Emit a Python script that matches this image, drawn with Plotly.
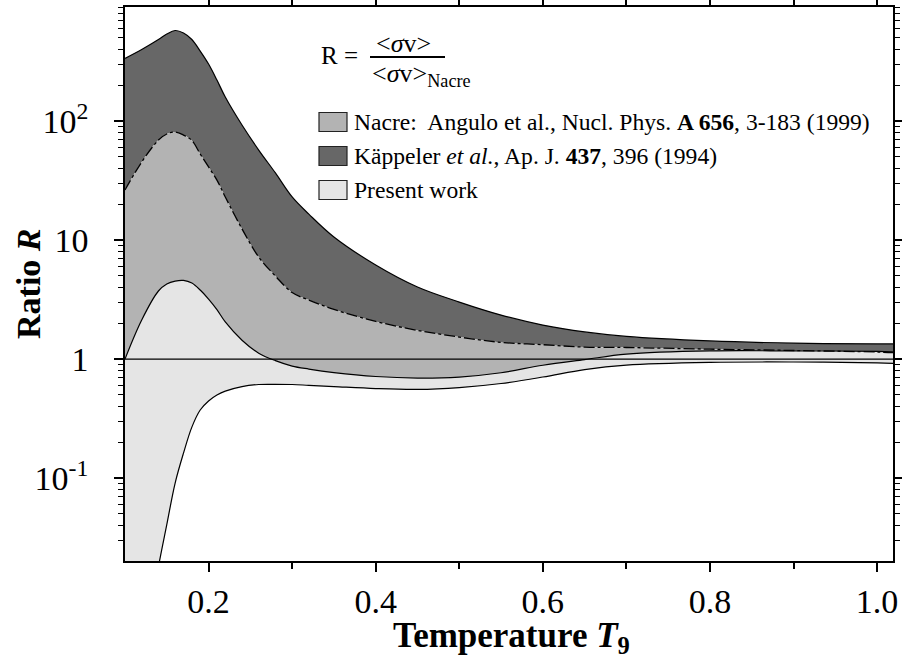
import plotly.graph_objects as go

# ---- data ----
T9 = [0.10, 0.12, 0.14, 0.15, 0.16, 0.17, 0.18, 0.19, 0.20, 0.21, 0.22, 0.24, 0.26, 0.28,
      0.30, 0.32, 0.35, 0.40, 0.45, 0.50, 0.55, 0.60, 0.65, 0.70, 0.80, 0.90, 1.00, 1.02]

kappeler_high = [336, 399, 484, 538, 576, 549, 484, 387, 301, 221, 159, 92.5, 57, 36.6,
                 23.0, 16.5, 10.6, 6.17, 4.03, 3.01, 2.34, 1.93, 1.69, 1.55, 1.42, 1.36, 1.34, 1.34]

nacre_high = [26.3, 45.2, 69.2, 77.8, 80.9, 76.2, 68.6, 52.8, 41.1, 31.9, 23.0, 12.4, 7.2, 4.98,
              3.62, 3.13, 2.61, 2.07, 1.74, 1.53, 1.38, 1.32, 1.26, 1.25, 1.21, 1.18, 1.145, 1.13]

present_high = [1.0, 2.13, 3.73, 4.27, 4.52, 4.58, 4.35, 3.80, 3.19, 2.60, 2.05, 1.44, 1.12, 0.97,
                0.873, 0.824, 0.77, 0.713, 0.692, 0.706, 0.767, 0.887, 0.99, 1.10, 1.17, 1.17, 1.16, 1.15]

present_low = [0.0005, 0.003, 0.018, 0.0406, 0.0908, 0.162, 0.268, 0.373, 0.444, 0.498, 0.538, 0.587, 0.611, 0.613,
               0.611, 0.601, 0.587, 0.565, 0.556, 0.576, 0.623, 0.706, 0.816, 0.89, 0.938, 0.944, 0.929, 0.92]

y_tickvals = [0.1, 1, 10, 100]
y_ticktext = ["10<sup>-1</sup>", "1", "10", "10<sup>2</sup>"]
x_tickvals = [0.2, 0.4, 0.6, 0.8, 1.0]
x_ticktext = ["0.2", "0.4", "0.6", "0.8", "1.0"]

legend_labels = [
    "Nacre:  Angulo et al., Nucl. Phys. <b>A 656</b>, 3-183 (1999)",
    "Käppeler <i>et al.</i>, Ap. J. <b>437</b>, 396 (1994)",
    "Present work",
]

DARK = "#676767"
MID = "#b3b3b3"
LIGHT = "#e5e5e5"
legend_colors = [MID, DARK, LIGHT]

FONT = "Liberation Serif, Times New Roman, serif"
SPL = dict(shape="spline", smoothing=1.0)

fig = go.Figure()

def band(low, high, color):
    fig.add_trace(go.Scatter(x=T9, y=low, mode="lines", line=dict(width=0, **SPL),
                             showlegend=False, hoverinfo="skip"))
    fig.add_trace(go.Scatter(x=T9, y=high, mode="lines", line=dict(width=0, **SPL),
                             fill="tonexty", fillcolor=color, showlegend=False, hoverinfo="skip"))

band(nacre_high, kappeler_high, DARK)
band(present_low, nacre_high, MID)
band(present_low, present_high, LIGHT)

fig.add_trace(go.Scatter(x=T9, y=kappeler_high, mode="lines",
                         line=dict(color="black", width=1.2, **SPL), showlegend=False))
fig.add_trace(go.Scatter(x=T9, y=nacre_high, mode="lines",
                         line=dict(color="black", width=1.3, dash="11px,3px,3px,3px", **SPL),
                         showlegend=False))
fig.add_trace(go.Scatter(x=T9, y=present_high, mode="lines",
                         line=dict(color="black", width=1.2, **SPL), showlegend=False))
fig.add_trace(go.Scatter(x=T9, y=present_low, mode="lines",
                         line=dict(color="black", width=1.2, **SPL), showlegend=False))

# R = 1 reference line
fig.add_shape(type="line", xref="paper", yref="y", x0=0, x1=1, y0=1, y1=1,
              line=dict(color="black", width=1.2), layer="above")

# ---- layout geometry ----
W, H = 902, 660
L, R, T, B = 125, 9, 7, 99
pw, ph = W - L - R, H - T - B

def px(xp):
    return (xp - L) / pw

def py(yp):
    return (H - B - yp) / ph

# formula annotation
fig.add_annotation(x=px(319), y=py(55), xref="paper", yref="paper", xanchor="left", yanchor="middle",
                   text="R =", showarrow=False, font=dict(family=FONT, size=25, color="black"))
fig.add_annotation(x=px(403), y=py(59), xref="paper", yref="paper", xanchor="center", yanchor="bottom",
                   text="&lt;<i>σ</i>v&gt;", showarrow=False, borderpad=0,
                   font=dict(family=FONT, size=26, color="black"))
fig.add_shape(type="line", xref="paper", yref="paper", x0=px(370), x1=px(445), y0=py(57), y1=py(57),
              line=dict(color="black", width=2))
fig.add_annotation(x=px(371), y=py(58), xref="paper", yref="paper", xanchor="left", yanchor="top",
                   text="&lt;<i>σ</i>v&gt;<sub>Nacre</sub>", showarrow=False, borderpad=0,
                   font=dict(family=FONT, size=26, color="black"))

# custom legend
row_y = [122, 156, 190]
for lab, col, ry in zip(legend_labels, legend_colors, row_y):
    fig.add_shape(type="rect", xref="paper", yref="paper", x0=px(319), x1=px(347),
                  y0=py(ry + 9.5), y1=py(ry - 9.5), fillcolor=col,
                  line=dict(color="#222222", width=1.2))
    fig.add_annotation(x=px(352), y=py(ry), xref="paper", yref="paper", xanchor="left", yanchor="middle",
                       text=lab, showarrow=False, font=dict(family=FONT, size=23.6, color="black"))

# axis titles
fig.add_annotation(x=px(511), y=py(637), xref="paper", yref="paper", xanchor="center", yanchor="middle",
                   text="<b>Temperature <i>T</i><sub>9</sub></b>", showarrow=False,
                   font=dict(family=FONT, size=35, color="black"))
fig.add_annotation(x=px(28), y=0.5, xref="paper", yref="paper", xanchor="center", yanchor="middle",
                   text="<b>Ratio <i>R</i></b>", textangle=-90, showarrow=False,
                   font=dict(family=FONT, size=34, color="black"))

y_minor = [m * 10 ** e for e in range(-2, 3) for m in range(2, 10)]

fig.update_layout(
    width=W, height=H,
    margin=dict(l=L, r=R, t=T, b=B),
    paper_bgcolor="white", plot_bgcolor="white",
    font=dict(family=FONT, color="black"),
    showlegend=False,
    xaxis=dict(range=[0.1, 1.019], tickmode="array", tickvals=x_tickvals, ticktext=x_ticktext,
               ticks="outside", ticklen=9, tickwidth=1.5, tickcolor="black", automargin=False,
               showline=True, linecolor="black", linewidth=1.5, mirror="ticks",
               showgrid=False, zeroline=False, tickfont=dict(family=FONT, size=34),
               ticklabelstandoff=0,
               minor=dict(tickmode="array", tickvals=[0.3, 0.5, 0.7, 0.9], ticks="outside",
                          ticklen=6, tickwidth=1.5, tickcolor="black", showgrid=False)),
    yaxis=dict(type="log", range=[-1.697, 2.958], tickmode="array", tickvals=y_tickvals,
               ticktext=y_ticktext, ticks="outside", ticklen=9, tickwidth=1.5, tickcolor="black",
               showline=True, linecolor="black", linewidth=1.5, mirror="ticks", automargin=False,
               showgrid=False, zeroline=False, tickfont=dict(family=FONT, size=34),
               ticklabelstandoff=19,
               minor=dict(tickmode="array", tickvals=y_minor, ticks="outside",
                          ticklen=5, tickwidth=1.2, tickcolor="black", showgrid=False)),
)

fig.write_html("out.html")
